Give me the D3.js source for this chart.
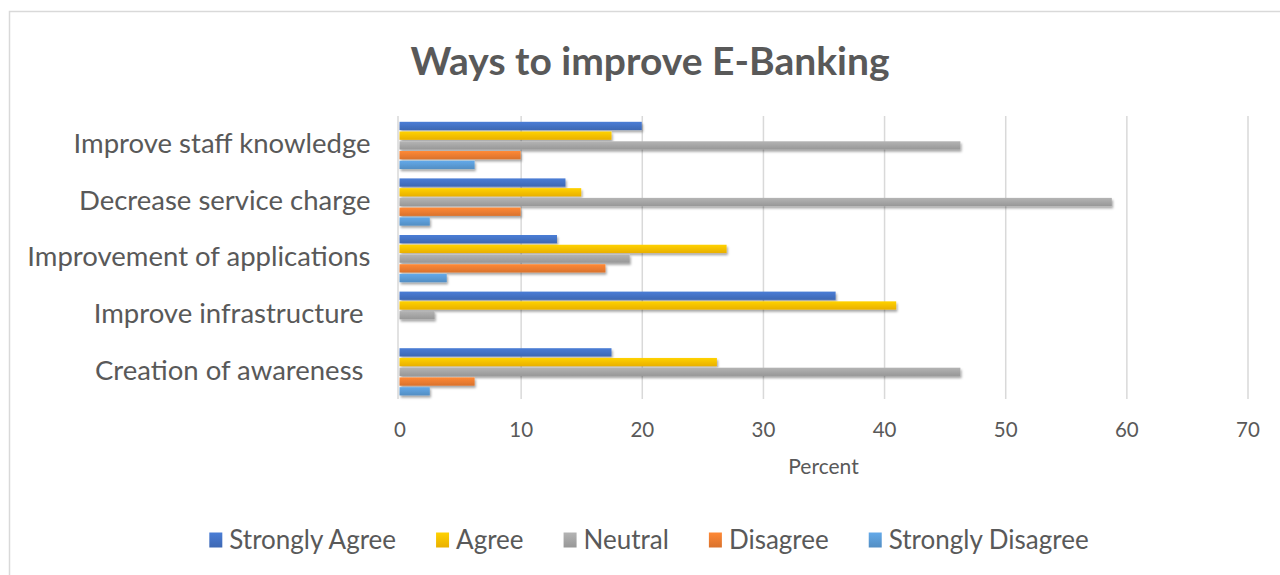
<!DOCTYPE html>
<html>
<head>
<meta charset="utf-8">
<script src="https://cdn.jsdelivr.net/npm/d3@7"></script>
<style>
  html, body { margin: 0; padding: 0; background: #ffffff; }
  svg { display: block; }
  text { font-family: Lato, "Open Sans", sans-serif; fill: #595959; }
</style>
</head>
<body>
<script>
// Survey responses: ways to improve e-banking (percent of respondents)
const categories = [
  "Improve staff knowledge",
  "Decrease service charge",
  "Improvement of applications",
  "Improve infrastructure ",
  "Creation of awareness "
];
const seriesNames = ["Strongly Agree", "Agree", "Neutral", "Disagree", "Strongly Disagree"];
const stronglyAgree    = [20,   13.7, 13, 36,  17.5];
const agree            = [17.5, 15,   27, 41,  26.2];
const neutral          = [46.3, 58.8, 19, 2.9, 46.3];
const disagree         = [10,   10,   17, 0,   6.2];
const stronglyDisagree = [6.2,  2.5,  3.9, 0,  2.5];
const seriesColors = ["#4472C4", "#FFC000", "#A5A5A5", "#ED7D31", "#5B9BD5"];
const xTicks = [0, 10, 20, 30, 40, 50, 60, 70];
const titleText = "Ways to improve E-Banking";
const xAxisTitle = "Percent";

const seriesValues = [stronglyAgree, agree, neutral, disagree, stronglyDisagree];
const rows = categories.map((c, i) => ({
  category: c,
  values: seriesNames.map((s, j) => ({ series: s, value: seriesValues[j][i], color: seriesColors[j] }))
}));

const W = 1280, H = 575;
const plot = { left: 399.5, right: 1247.5, top: 116, bottom: 399 };

const svg = d3.select("body").append("svg").attr("width", W).attr("height", H);

const defs = svg.append("defs");
const shadow = defs.append("filter").attr("id", "barShadow")
  .attr("x", "-5%").attr("y", "-40%").attr("width", "110%").attr("height", "200%");
shadow.append("feDropShadow")
  .attr("dx", 1.2).attr("dy", 2.2).attr("stdDeviation", 1.3)
  .attr("flood-color", "#000").attr("flood-opacity", 0.35);

seriesColors.forEach((c, i) => {
  const g = defs.append("linearGradient").attr("id", "grad" + i)
    .attr("x1", 0).attr("y1", 0).attr("x2", 0).attr("y2", 1);
  g.append("stop").attr("offset", "0%").attr("stop-color", d3.color(c).brighter(0.25));
  g.append("stop").attr("offset", "100%").attr("stop-color", d3.color(c).darker(0.25));
});

// chart frame
svg.append("rect")
  .attr("x", 9.5).attr("y", 11.5).attr("width", W + 20).attr("height", H + 20)
  .attr("fill", "#ffffff").attr("stroke", "#d9d9d9").attr("stroke-width", 1.5);

// title
svg.append("text")
  .attr("x", 650).attr("y", 75)
  .attr("text-anchor", "middle")
  .style("font-size", "39px").style("font-weight", "bold")
  .text(titleText);

const x = d3.scaleLinear().domain([0, 70]).range([plot.left, plot.right]);
const y = d3.scaleBand().domain(categories).range([plot.top, plot.bottom]).padding(0);
const ys = d3.scaleBand().domain(seriesNames).range([0, y.bandwidth()])
  .paddingInner(0.15).paddingOuter(0.48).align(0.62);

// vertical gridlines
const grid = svg.append("g")
  .attr("transform", `translate(0,${plot.bottom})`)
  .call(d3.axisBottom(x).tickValues(xTicks.filter(t => t > 0))
    .tickSize(-(plot.bottom - plot.top)).tickFormat(""));
grid.select(".domain").remove();
grid.selectAll(".tick line").attr("stroke", "#d9d9d9").attr("stroke-width", 1.5);

// category axis line
svg.append("line")
  .attr("x1", x(0) - 1.5).attr("x2", x(0) - 1.5)
  .attr("y1", plot.top).attr("y2", plot.bottom)
  .attr("stroke", "#d9d9d9").attr("stroke-width", 1.5);

// tick labels
const xAxis = svg.append("g")
  .attr("transform", `translate(0,${plot.bottom})`)
  .call(d3.axisBottom(x).tickValues(xTicks).tickSize(0).tickPadding(23));
xAxis.select(".domain").remove();
xAxis.selectAll("text")
  .style("font-size", "20.5px").style("font-family", "Lato, 'Open Sans', sans-serif")
  .attr("fill", "#595959");

svg.append("text")
  .attr("x", (x(0) + x(70)) / 2).attr("y", 474)
  .attr("text-anchor", "middle")
  .style("font-size", "21px")
  .text(xAxisTitle);

// category labels
const yAxis = svg.append("g")
  .attr("transform", `translate(${plot.left},0)`)
  .call(d3.axisLeft(y).tickSize(0).tickPadding(29));
yAxis.select(".domain").remove();
yAxis.selectAll("text")
  .style("font-size", "27.5px").style("font-family", "Lato, 'Open Sans', sans-serif")
  .style("white-space", "pre")
  .attr("fill", "#595959");

// bars
const barLayer = svg.append("g").attr("filter", "url(#barShadow)");
const groups = barLayer.selectAll("g.cat").data(rows).join("g")
  .attr("class", "cat")
  .attr("transform", d => `translate(0,${y(d.category)})`);
groups.selectAll("rect").data(d => d.values.filter(v => v.value > 0)).join("rect")
  .attr("x", x(0))
  .attr("y", d => ys(d.series))
  .attr("width", d => x(d.value) - x(0))
  .attr("height", ys.bandwidth())
  .attr("fill", d => "url(#grad" + seriesNames.indexOf(d.series) + ")");

// legend
const legend = svg.append("g");
const sq = 13, gapText = 7, gapEntry = 40;
let cursor = 0;
seriesNames.forEach((s, i) => {
  const g = legend.append("g");
  g.append("rect").attr("x", 0).attr("y", -sq / 2 - 1).attr("width", sq).attr("height", sq + 2)
    .attr("fill", "url(#grad" + i + ")");
  const t = g.append("text").attr("x", sq + gapText).attr("y", 9)
    .style("font-size", "26px").text(s);
  const w = sq + gapText + t.node().getComputedTextLength();
  g.attr("transform", `translate(${cursor},0)`);
  cursor += w + gapEntry;
});
const legendWidth = cursor - gapEntry;
legend.attr("transform", `translate(${649 - legendWidth / 2},540)`);
</script>
</body>
</html>
